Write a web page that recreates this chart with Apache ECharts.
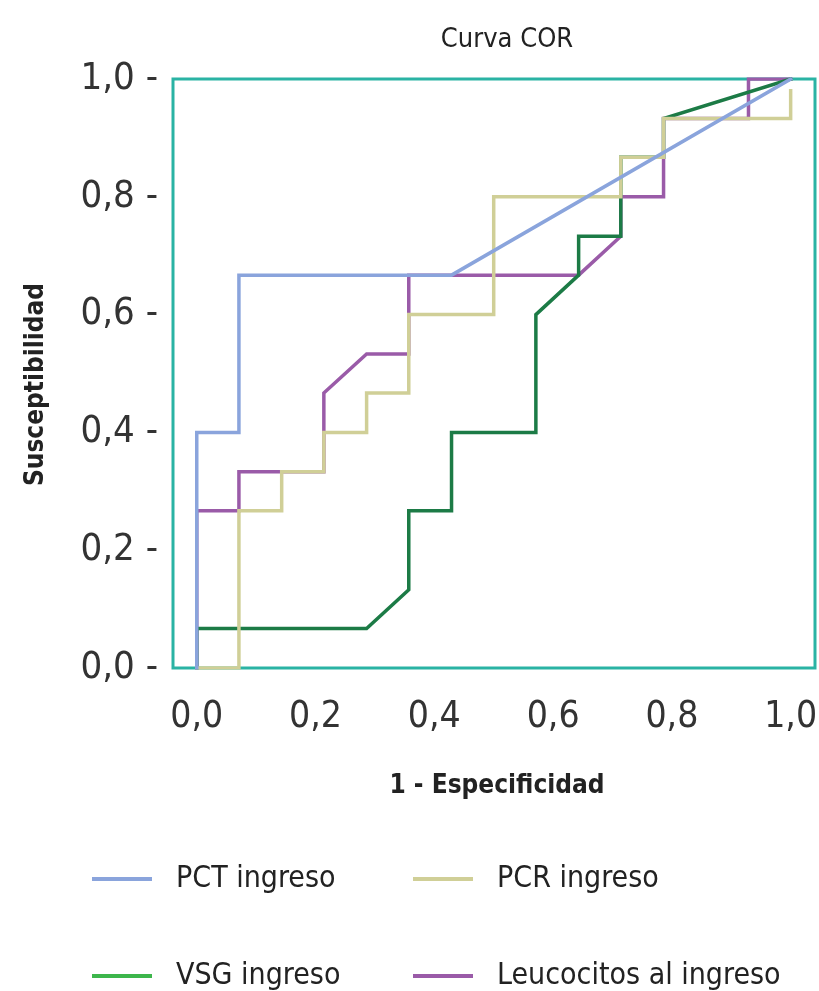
<!DOCTYPE html>
<html>
<head>
<meta charset="utf-8">
<script src="https://cdn.jsdelivr.net/npm/echarts@6/dist/echarts.min.js"></script>
<style>
html,body{margin:0;padding:0;background:#fff;}
#chart{width:819px;height:991px;}
</style>
</head>
<body>
<div id="chart"></div>
<script>
// ---- data (1 - Especificidad, Susceptibilidad) ----
const seriesNames = ['PCT ingreso', 'PCR ingreso', 'VSG ingreso', 'Leucocitos al ingreso'];

const pctX = [0, 0, 0.071, 0.071, 0.429, 1];
const pctY = [0, 0.4, 0.4, 0.667, 0.667, 1];

const pcrX = [0, 0.071, 0.071, 0.143, 0.143, 0.214, 0.214, 0.286, 0.286, 0.357, 0.357, 0.5, 0.5, 0.714, 0.714, 0.786, 0.786, 1, 1];
const pcrY = [0, 0, 0.267, 0.267, 0.333, 0.333, 0.4, 0.4, 0.467, 0.467, 0.6, 0.6, 0.8, 0.8, 0.867, 0.867, 0.933, 0.933, 0.98];

const vsgX = [0, 0, 0.286, 0.357, 0.357, 0.429, 0.429, 0.571, 0.571, 0.643, 0.643, 0.714, 0.714, 0.786, 0.786, 1];
const vsgY = [0, 0.067, 0.067, 0.133, 0.267, 0.267, 0.4, 0.4, 0.6, 0.667, 0.733, 0.733, 0.867, 0.867, 0.933, 1];

const leuX = [0, 0, 0.071, 0.071, 0.143, 0.214, 0.214, 0.286, 0.357, 0.357, 0.643, 0.714, 0.714, 0.786, 0.786, 0.929, 0.929, 1];
const leuY = [0, 0.267, 0.267, 0.333, 0.333, 0.333, 0.467, 0.533, 0.533, 0.667, 0.667, 0.733, 0.8, 0.8, 0.933, 0.933, 1, 1];

const tickValues = [0, 0.2, 0.4, 0.6, 0.8, 1.0];
const tickLabels = ['0,0', '0,2', '0,4', '0,6', '0,8', '1,0'];

// ---- styling ----
const FONT = '"Liberation Sans Narrow", "DejaVu Sans Condensed", "Liberation Sans", sans-serif';
const colors = {
  'PCT ingreso': '#8aa4dc',
  'PCR ingreso': '#d0cf97',
  'VSG ingreso': '#1c7b46',
  'Leucocitos al ingreso': '#9a5ba8'
};
const legendColors = {
  'PCT ingreso': '#8aa4dc',
  'PCR ingreso': '#d0cf97',
  'VSG ingreso': '#3db64c',
  'Leucocitos al ingreso': '#9a5ba8'
};

function zip(xs, ys) { return xs.map((x, i) => [x, ys[i]]); }
function labelFor(v) {
  for (let i = 0; i < tickValues.length; i++) {
    if (Math.abs(tickValues[i] - v) < 1e-6) return tickLabels[i];
  }
  return '';
}

const chart = echarts.init(document.getElementById('chart'), null, {renderer: 'canvas'});

function lineSeries(name, xs, ys) {
  return {
    name: name,
    type: 'line',
    data: zip(xs, ys),
    showSymbol: false,
    symbol: 'none',
    animation: false,
    lineStyle: {color: colors[name], width: 3.5, cap: 'square', join: 'miter'},
    itemStyle: {color: colors[name]}
  };
}

function legendFor(name, left, top) {
  return {
    data: [{name: name, itemStyle: {color: legendColors[name]}}],
    left: left, top: top,
    padding: 0,
    icon: 'rect',
    itemWidth: 60, itemHeight: 4,
    selectedMode: false,
    textStyle: {fontFamily: FONT, fontSize: 30, color: '#222', padding: [0, 0, 0, 19]}
  };
}

const option = {
  backgroundColor: '#fff',
  animation: false,
  title: {
    text: 'Curva COR',
    left: 502, top: 21,
    textAlign: 'center',
    textStyle: {fontFamily: FONT, fontSize: 27, fontWeight: 'normal', color: '#222'}
  },
  legend: [
    legendFor('PCT ingreso', 92, 864),
    legendFor('PCR ingreso', 413, 864),
    legendFor('VSG ingreso', 92, 961),
    legendFor('Leucocitos al ingreso', 413, 961)
  ],
  grid: {
    left: 173, right: 4, top: 79, bottom: 323,
    outerBoundsMode: 'none',
    containLabel: false,
    show: true, borderColor: '#2ab3a4', borderWidth: 3, backgroundColor: 'transparent'
  },
  xAxis: {
    type: 'value',
    min: -0.04, max: 1.041,
    name: '1 - Especificidad',
    nameLocation: 'middle',
    nameGap: 105,
    nameTextStyle: {fontFamily: FONT, fontSize: 26, fontWeight: 'bold', color: '#222', padding: [0, 0, 0, 6]},
    axisLine: {show: false},
    axisTick: {show: false},
    splitLine: {show: false},
    axisLabel: {
      customValues: tickValues,
      formatter: v => labelFor(v),
      margin: 31,
      fontFamily: FONT, fontSize: 37, color: '#333'
    }
  },
  yAxis: {
    type: 'value',
    min: 0, max: 1,
    name: 'Susceptibilidad',
    nameLocation: 'middle',
    nameGap: 124,
    nameRotate: 90,
    nameTextStyle: {fontFamily: FONT, fontSize: 26, fontWeight: 'bold', color: '#222', padding: [0, 22, 0, 0]},
    axisLine: {show: false},
    axisTick: {show: false},
    splitLine: {show: false},
    axisLabel: {
      customValues: tickValues,
      formatter: v => labelFor(v) + ' -',
      margin: 15,
      fontFamily: FONT, fontSize: 38, color: '#333'
    }
  },
  series: [
    lineSeries('Leucocitos al ingreso', leuX, leuY),
    lineSeries('VSG ingreso', vsgX, vsgY),
    lineSeries('PCR ingreso', pcrX, pcrY),
    lineSeries('PCT ingreso', pctX, pctY)
  ]
};

chart.setOption(option);
</script>
</body>
</html>
